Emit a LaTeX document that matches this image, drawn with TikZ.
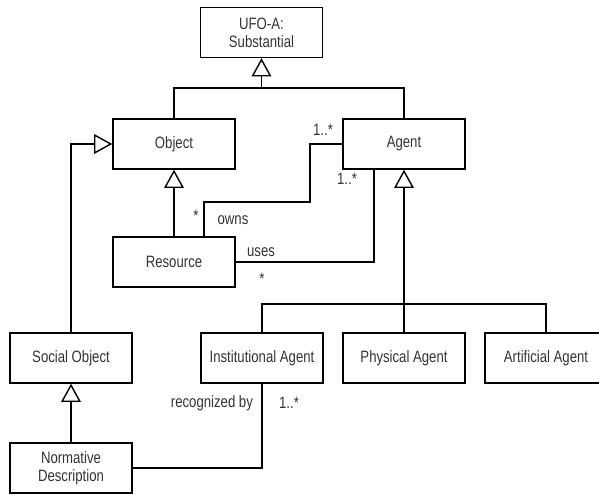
\documentclass[tikz,border=0pt]{standalone}
\usepackage{fontspec}
\setmainfont{Liberation Sans}[FakeStretch=0.8]
\usetikzlibrary{arrows.meta,calc}
\begin{document}
\begin{tikzpicture}[x=0.025cm,y=-0.025cm,line width=1pt,
    cls/.style={draw,text=black!80,minimum width=3.05cm,minimum height=1.25cm,align=center,inner sep=2pt,font=\fontsize{11.7}{13}\selectfont},
    lbl/.style={text=black!80,inner sep=1pt,font=\fontsize{11.7}{13}\selectfont},
    gen/.style={-{Triangle[open,length=13pt,width=14pt]}}]
      \useasboundingbox (0,0) rectangle (599,494);
      % classes
      \node[cls] (ufo) at (261.5,32.5) {UFO-A:\\Substantial};
      \node[cls] (object) at (174,144) {Object};
      \node[cls] (agent) at (404,144) {Agent};
      \node[cls] (resource) at (174,262) {Resource};
      \node[cls] (social) at (71,358) {Social Object};
      \node[cls] (normative) at (71,468) {Normative\\Description};
      \node[cls] (inst) at (262,358) {Institutional Agent};
      \node[cls] (phys) at (404,358) {Physical Agent};
      \node[cls] (artif) at (546,358) {Artificial Agent};
      % generalizations
      \coordinate (top) at (261.5,88);
      \draw[gen] (top) -- (ufo.south);
      \draw (object.north) |- (top) -| (agent.north);
      \draw[gen] (resource) -- (object);
      \draw[gen] (social.north) |- (object.west);
      \draw[gen] (normative) -- (social);
      \coordinate (kinds) at (404,304);
      \draw[gen] (kinds) -- (agent.south);
      \draw (inst.north) |- (kinds) -| (artif.north);
      \draw (kinds) -- (phys.north);
      % associations
      \coordinate (ownsbend) at (310,202);
      \draw ($(resource.north)+(30,0)$) |- (ownsbend) |- (agent.west);
      \draw (resource.east) -| ($(agent.south)+(-30,0)$);
      \draw (normative.east) -| (inst.south);
      % roles and multiplicities
      \node[lbl] (ownsmany) at (196,216) {*};
      \node[lbl] (owns) at (233,220) {owns};
      \node[lbl] (ownsone) at (323,130) {1..*};
      \node[lbl] (usesone) at (347,179) {1..*};
      \node[lbl] (uses) at (261,252) {uses};
      \node[lbl] (usesmany) at (262,279) {*};
      \node[lbl,anchor=east] (recog) at (255,403) {recognized by};
      \node[lbl] (recogone) at (289,403) {1..*};
    \end{tikzpicture}
\end{document}
